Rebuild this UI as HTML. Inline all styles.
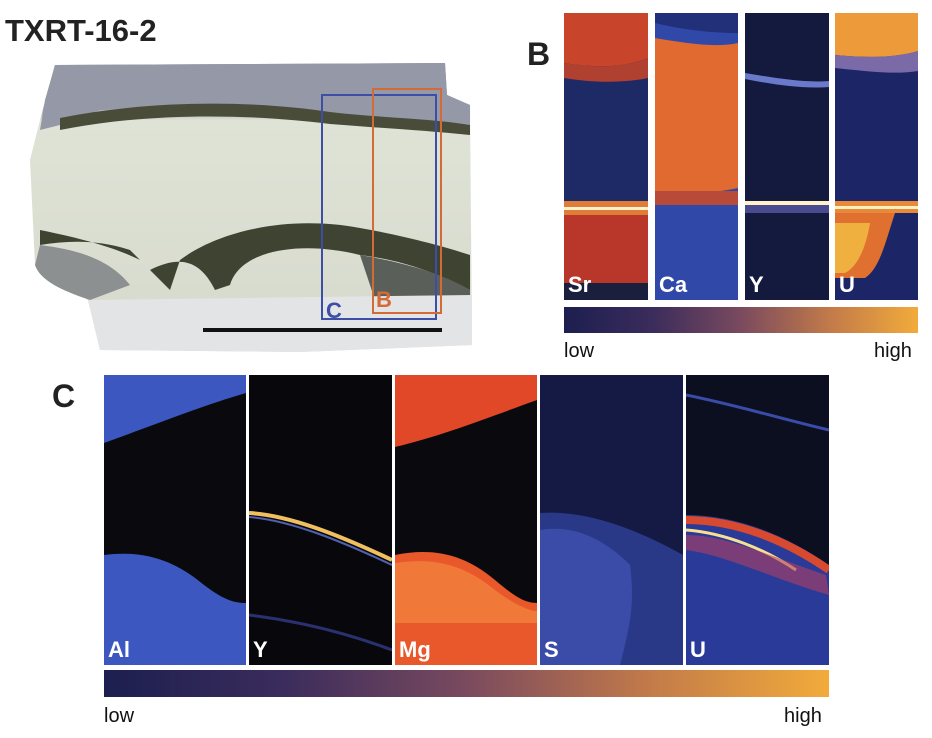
<!DOCTYPE html>
<html><head><meta charset="utf-8">
<style>
body{margin:0;background:#fff;width:932px;height:738px;overflow:hidden;position:relative;font-family:"Liberation Sans",sans-serif}
.abs{position:absolute}
.lab{position:absolute;color:#fff;font-weight:bold;font-size:22px}
.cb{background:linear-gradient(90deg,#1c1f4f 0%,#3b2c5c 25%,#7a4a5e 50%,#c27a4a 75%,#f2ab3a 100%)}
.t{position:absolute;font-size:20px;color:#111}
</style></head><body>
<div class="abs" style="left:5px;top:13px;font-size:31px;font-weight:bold;color:#222">TXRT-16-2</div>

<svg class="abs" style="left:0;top:0" width="480" height="370">
<defs>
<linearGradient id="rk" x1="0" y1="0" x2="0" y2="1"><stop offset="0" stop-color="#8a8c98"/><stop offset="0.15" stop-color="#9a9ca8"/><stop offset="0.2" stop-color="#dfe3d6"/><stop offset="1" stop-color="#d6d9cc"/></linearGradient>
</defs>
<polygon points="55,65 445,63 447,95 470,105 472,345 300,352 100,350 88,300 35,265 30,160 40,120" fill="url(#rk)"/>
<path d="M55,65 L445,63 447,95 470,105 470,130 L300,118 200,105 100,110 60,125 40,130 45,100Z" fill="#9598a6"/>
<path d="M60,118 C150,100 250,100 330,112 C380,118 430,118 470,125 L470,135 C420,130 380,128 330,124 C250,114 150,112 60,130Z" fill="#4a4c3a"/>
<path d="M40,230 C90,240 120,250 140,260 L170,290 L180,260 C220,230 290,215 360,228 C400,235 440,245 470,255 L470,290 C430,270 400,260 360,255 C300,240 240,250 230,285 L215,290 C200,260 180,255 150,270 L130,250 C100,240 70,240 40,245Z" fill="#3f4432"/>
<path d="M40,245 C80,250 110,260 130,285 L90,300 C60,290 40,280 35,265Z" fill="#8d9090"/>
<path d="M360,255 C400,262 440,272 470,290 L470,300 L375,300 Z" fill="#5a5f5a"/>
<path d="M88,300 L472,295 472,345 300,352 100,350Z" fill="#e3e4e6"/>
<rect x="322" y="95" width="114" height="224" fill="none" stroke="#3c4ea6" stroke-width="2"/>
<rect x="373" y="89" width="68" height="224" fill="none" stroke="#d46a35" stroke-width="2"/>
<text x="326" y="318" font-size="22" font-weight="bold" fill="#3c4ea6" font-family="Liberation Sans">C</text>
<text x="376" y="307" font-size="22" font-weight="bold" fill="#d46a35" font-family="Liberation Sans">B</text>
<rect x="203" y="328" width="239" height="4" fill="#111"/>
</svg>

<div class="abs" style="left:527px;top:36px;font-size:32px;font-weight:bold;color:#222">B</div>

<!-- B panels -->
<svg class="abs" style="left:564px;top:13px" width="84" height="287">
<rect width="84" height="287" fill="#1e2a66"/>
<path d="M0,0 H84 V45 C60,55 30,55 0,50Z" fill="#c8442a"/>
<path d="M0,50 C30,55 60,55 84,45 V65 C60,70 30,70 0,65Z" fill="#b0402f"/>
<rect y="188" width="84" height="14" fill="#e07c3a"/><rect y="194" width="84" height="3" fill="#fff2c8"/>
<rect y="202" width="84" height="85" fill="#b8362a"/>
<rect y="270" width="84" height="17" fill="#1a1f3e"/>
</svg>
<svg class="abs" style="left:655px;top:13px" width="83" height="287">
<rect width="83" height="287" fill="#3048a8"/>
<path d="M0,0 H83 V20 C50,20 20,15 0,10Z" fill="#22307a"/>
<path d="M0,25 C30,30 60,35 83,30 V175 C60,180 30,182 0,178Z" fill="#e06a30"/>
<rect y="178" width="83" height="14" fill="#b84a3a"/>
</svg>
<svg class="abs" style="left:745px;top:13px" width="84" height="287">
<rect width="84" height="287" fill="#141a3e"/>
<path d="M0,60 C30,65 60,70 84,68 V74 C60,76 30,72 0,66Z" fill="#6a7acb"/>
<rect y="188" width="84" height="4" fill="#fff2c8"/>
<rect y="192" width="84" height="8" fill="#4a4a90"/>
</svg>
<svg class="abs" style="left:835px;top:13px" width="83" height="287">
<rect width="83" height="287" fill="#1c2666"/>
<path d="M0,0 H83 V38 C60,45 30,45 0,42Z" fill="#ec9a3a"/>
<path d="M0,42 C30,45 60,45 83,38 V58 C60,62 30,58 0,55Z" fill="#7a6aa8"/>
<rect y="188" width="83" height="12" fill="#e88a3a"/><rect y="193" width="83" height="3" fill="#fff0c0"/>
<path d="M0,200 H60 C50,230 45,255 30,265 H0Z" fill="#e07030"/>
<path d="M0,210 H35 C30,240 20,255 10,260 H0Z" fill="#f0b040"/>
</svg>
<div class="lab" style="left:568px;top:272px">Sr</div>
<div class="lab" style="left:659px;top:272px">Ca</div>
<div class="lab" style="left:749px;top:272px">Y</div>
<div class="lab" style="left:839px;top:272px">U</div>
<div class="abs cb" style="left:564px;top:307px;width:354px;height:26px"></div>
<div class="t" style="left:564px;top:340px">low</div>
<div class="t" style="left:874px;top:340px">high</div>

<div class="abs" style="left:52px;top:378px;font-size:32px;font-weight:bold;color:#222">C</div>

<!-- C panels -->
<svg class="abs" style="left:104px;top:375px" width="142" height="290">
<rect width="142" height="290" fill="#0a0a0e"/>
<path d="M0,0 H142 V18 C100,30 50,50 0,68Z" fill="#3c58c0"/>
<path d="M0,180 C40,175 70,185 100,210 C120,225 130,228 142,228 V290 H0Z" fill="#3c58c0"/>
</svg>
<svg class="abs" style="left:249px;top:375px" width="143" height="290">
<rect width="143" height="290" fill="#08080c"/>
<path d="M0,138 C40,140 90,160 143,185" stroke="#f0c060" stroke-width="4" fill="none"/>
<path d="M0,142 C40,145 90,165 143,190" stroke="#5060b0" stroke-width="2" fill="none"/>
<path d="M0,240 C40,245 90,255 143,275" stroke="#2a3070" stroke-width="3" fill="none"/>
</svg>
<svg class="abs" style="left:395px;top:375px" width="142" height="290">
<rect width="142" height="290" fill="#0a0a0e"/>
<path d="M0,0 H142 V25 C100,40 50,60 0,72Z" fill="#e04828"/>
<path d="M0,180 C40,172 70,180 100,205 C120,222 130,228 142,228 V290 H0Z" fill="#e8582a"/>
<path d="M0,188 C40,182 70,190 100,215 C120,230 135,236 142,236 V248 H0Z" fill="#f07838"/>
</svg>
<svg class="abs" style="left:540px;top:375px" width="143" height="290">
<rect width="143" height="290" fill="#141a44"/>
<path d="M0,138 C40,135 90,150 143,180 V290 H0Z" fill="#2a3888"/>
<path d="M0,155 C30,150 60,160 90,190 C95,230 90,250 80,290 H0Z" fill="#3a4ca8"/>
</svg>
<svg class="abs" style="left:686px;top:375px" width="143" height="290">
<rect width="143" height="290" fill="#0c0f20"/>
<path d="M0,20 C50,30 100,45 143,55" stroke="#3a4ca8" stroke-width="3" fill="none"/>
<path d="M0,140 C50,140 100,160 143,190 V290 H0Z" fill="#2a3a98"/>
<path d="M0,145 C50,145 100,165 143,195" stroke="#d84a30" stroke-width="8" fill="none"/>
<path d="M0,155 C40,158 80,175 110,195" stroke="#f8e090" stroke-width="3" fill="none"/>
<path d="M0,160 C40,160 80,180 140,200 L143,220 C90,205 40,180 0,175Z" fill="#b04060" opacity="0.6"/>
</svg>
<div class="lab" style="left:108px;top:637px">Al</div>
<div class="lab" style="left:253px;top:637px">Y</div>
<div class="lab" style="left:399px;top:637px">Mg</div>
<div class="lab" style="left:544px;top:637px">S</div>
<div class="lab" style="left:690px;top:637px">U</div>
<div class="abs cb" style="left:104px;top:670px;width:725px;height:27px"></div>
<div class="t" style="left:104px;top:705px">low</div>
<div class="t" style="left:784px;top:705px">high</div>
</body></html>
